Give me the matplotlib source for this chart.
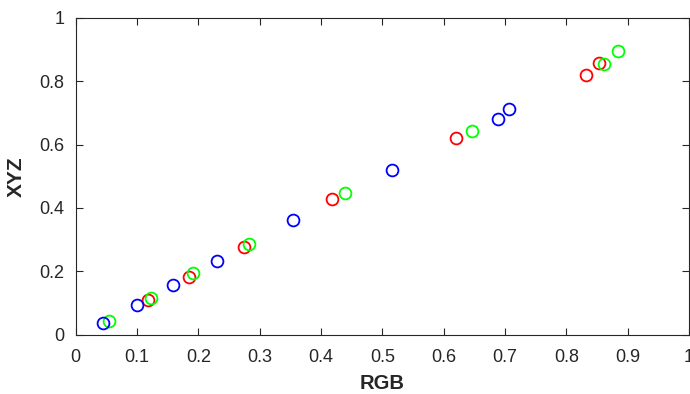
import matplotlib
matplotlib.use("Agg")
import matplotlib.pyplot as plt

# values
red_x = [0.118, 0.184, 0.274, 0.418, 0.620, 0.832, 0.854]
red_y = [0.109, 0.183, 0.276, 0.429, 0.621, 0.820, 0.858]
green_x = [0.055, 0.123, 0.191, 0.283, 0.439, 0.646, 0.862, 0.885]
green_y = [0.043, 0.117, 0.194, 0.285, 0.448, 0.644, 0.853, 0.894]
blue_x = [0.045, 0.100, 0.159, 0.231, 0.355, 0.516, 0.688, 0.707]
blue_y = [0.038, 0.093, 0.156, 0.233, 0.361, 0.520, 0.680, 0.712]

xticks = [0, 0.1, 0.2, 0.3, 0.4, 0.5, 0.6, 0.7, 0.8, 0.9, 1]
xtick_labels = ['0', '0.1', '0.2', '0.3', '0.4', '0.5', '0.6', '0.7', '0.8', '0.9', '1']
yticks = [0, 0.2, 0.4, 0.6, 0.8, 1]
ytick_labels = ['0', '0.2', '0.4', '0.6', '0.8', '1']

plt.rcParams['font.family'] = ['Liberation Sans', 'DejaVu Sans']

fig = plt.figure(figsize=(6.9, 3.94), dpi=100)
ax = fig.add_axes([0.1097, 0.1505, 0.8889, 0.8045])

mk = dict(marker='o', linestyle='none', markersize=8.5, markerfacecolor='none', markeredgewidth=1.3)
ax.plot(red_x, red_y, color=(1, 0, 0), **mk)
ax.plot(green_x, green_y, color=(0, 1, 0), **mk)
ax.plot(blue_x, blue_y, color=(0, 0, 1), **mk)

ax.set_xlim(0, 1)
ax.set_ylim(0, 1)
ax.set_xticks(xticks)
ax.set_xticklabels(xtick_labels)
ax.set_yticks(yticks)
ax.set_yticklabels(ytick_labels)

axcol = '#262626'
for s in ax.spines.values():
    s.set_color(axcol)
    s.set_linewidth(0.8)
ax.tick_params(direction='in', top=True, right=True, length=5, width=0.8,
               color=axcol, labelcolor=axcol, labelsize=13)
ax.tick_params(axis='x', pad=10)
ax.tick_params(axis='y', pad=8)

ax.set_xlabel('RGB', fontsize=14.5, fontweight='bold', color=axcol, labelpad=6)
ax.set_ylabel('XYZ', fontsize=15, fontweight='bold', color=axcol, labelpad=10)

fig.savefig('out.png', dpi=100)
